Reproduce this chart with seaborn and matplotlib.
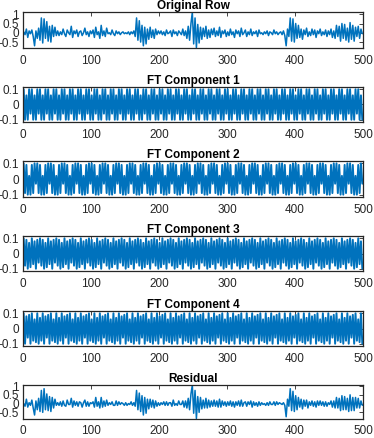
import numpy as np
import matplotlib
matplotlib.use("Agg")
import matplotlib.pyplot as plt
import seaborn as sns

# sample positions (every second sample of a 500-sample row)
x_pos = list(range(1, 500, 2))

# values in hundredths
original_row = [
    5, -10, 20, -25, 10, -5, 15, -20, -70, 10, -30, 25, -40, 80, -55, 75, -30, 60, -45, 35, -50, 40, -20, 30, -15,
    10, -15, 5, -10, 20, -5, -20, 15, 0, -10, 35, -25, 10, -5, 15, -20, 5, 10, -15, 0, 25, -10, 5, -20, 10,
    -5, 15, -25, 30, -10, 5, -30, 40, -15, 10, -20, 25, -5, 0, -10, 15, -5, -15, 10, -5, 5, -10, 0, 5, -5,
    0, -5, 5, -10, 5, -5, 10, -20, 80, -40, 65, -50, 40, -70, 30, -60, 20, -35, 30, -25, 15, -30, 20, -10, 10,
    -5, 10, -10, 5, -15, 15, -5, 0, 10, -20, 15, -5, 5, -15, 10, 0, -10, 20, -15, 10, -30, 35, -40, 50, 110,
    -60, 80, -80, 45, -55, 30, -35, 25, -20, 35, -30, 15, -25, 20, -10, 25, -20, 10, -15, 30, -25, 10, -5, 15, -20,
    5, -15, 20, -10, 5, -25, 15, -5, 10, -20, 25, -10, 0, 15, -20, 5, -10, 20, -15, 5, -5, 10, -20, 15, -5,
    0, -10, 5, -5, 10, -15, 5, 0, -10, 15, -5, 5, -10, 0, 5, -10, 10, -15, -70, 20, -20, 80, -45, 75, -50,
    50, -30, 40, -25, 20, -35, 15, -10, 25, -20, 5, -15, 20, -10, 15, -25, 10, -5, 20, -15, 5, -10, 15, -20, 10,
    -10, 20, -25, 10, -30, 40, -20, 35, -45, 50, -30, 45, -40, 25, -50, 55, -35, 40, -45, 30, -20, 35, -30, 20, -5,
]

residual = [
    0, -15, 25, -20, 5, -10, 20, -25, -65, 15, -35, 30, -45, 75, -50, 85, -35, 55, -40, 40, -45, 35, -25, 25, -10,
    5, -10, 10, -15, 15, -10, -15, 20, -5, -5, 30, -20, 15, -10, 10, -15, 10, 5, -20, 5, 20, -15, 10, -15, 5,
    0, 10, -20, 35, -15, 10, -25, 35, -20, 15, -15, 20, -10, 5, -5, 10, -10, -10, 15, -10, 10, -5, 5, 0, -10,
    5, -10, 0, -5, 10, -10, 5, -15, 75, -35, 60, -45, 45, -65, 35, -55, 25, -30, 25, -20, 20, -25, 15, -15, 5,
    -10, 5, -5, 10, -10, 10, -10, 5, 5, -15, 20, -10, 0, -10, 15, -5, -5, 15, -20, 15, -25, 30, -35, 55, 105,
    -55, 75, -85, 40, -50, 35, -30, 20, -25, 30, -25, 20, -20, 15, -15, 20, -15, 15, -20, 25, -20, 15, -10, 10, -15,
    10, -10, 15, -15, 10, -20, 10, -10, 15, -15, 20, -15, 5, 10, -15, 10, -5, 15, -20, 10, -10, 5, -15, 10, -10,
    5, -5, 0, -10, 5, -10, 10, -5, -5, 10, -10, 10, -5, 5, 0, -5, 5, -10, -75, 25, -15, 85, -40, 70, -45,
    45, -35, 35, -20, 25, -30, 20, -15, 20, -25, 10, -10, 15, -15, 10, -20, 15, -10, 15, -10, 10, -15, 10, -15, 5,
    -5, 15, -20, 15, -25, 35, -25, 30, -40, 45, -35, 40, -35, 30, -45, 50, -40, 35, -40, 35, -25, 30, -25, 15, -10,
]

ft_component_1 = [
    10, -10, 6, -10, 10, -6, 10, -10, 6, -10, 10, -6, 10, -10, 6, -10, 10, -6, 10, -10, 6, -10, 10, -6, 10,
    -10, 6, -10, 10, -6, 10, -10, 6, -10, 10, -6, 10, -10, 6, -10, 10, -6, 10, -10, 6, -10, 10, -6, 10, -10,
    6, -10, 10, -6, 10, -10, 6, -10, 10, -6, 10, -10, 6, -10, 10, -6, 10, -10, 6, -10, 10, -6, 10, -10, 6,
    -10, 10, -6, 10, -10, 6, -10, 10, -6, 10, -10, 6, -10, 10, -6, 10, -10, 6, -10, 10, -6, 10, -10, 6, -10,
    10, -6, 10, -10, 6, -10, 10, -6, 10, -10, 6, -10, 10, -6, 10, -10, 6, -10, 10, -6, 10, -10, 6, -10, 10,
    -6, 10, -10, 6, -10, 10, -6, 10, -10, 6, -10, 10, -6, 10, -10, 6, -10, 10, -6, 10, -10, 6, -10, 10, -6,
    10, -10, 6, -10, 10, -6, 10, -10, 6, -10, 10, -6, 10, -10, 6, -10, 10, -6, 10, -10, 6, -10, 10, -6, 10,
    -10, 6, -10, 10, -6, 10, -10, 6, -10, 10, -6, 10, -10, 6, -10, 10, -6, 10, -10, 6, -10, 10, -6, 10, -10,
    6, -10, 10, -6, 10, -10, 6, -10, 10, -6, 10, -10, 6, -10, 10, -6, 10, -10, 6, -10, 10, -6, 10, -10, 6,
    -10, 10, -6, 10, -10, 6, -10, 10, -6, 10, -10, 6, -10, 10, -6, 10, -10, 6, -10, 10, -6, 10, -10, 6, -10,
]

ft_component_2 = [
    10, -9, 9, -10, 2, -10, 9, -9, 10, -3, 10, -9, 9, -10, 2, -10, 9, -9, 10, -3, 10, -9, 9, -10, 2,
    -10, 9, -9, 10, -3, 10, -9, 9, -10, 2, -10, 9, -9, 10, -3, 10, -9, 9, -10, 2, -10, 9, -9, 10, -3,
    10, -9, 9, -10, 2, -10, 9, -9, 10, -3, 10, -9, 9, -10, 2, -10, 9, -9, 10, -3, 10, -9, 9, -10, 2,
    -10, 9, -9, 10, -3, 10, -9, 9, -10, 2, -10, 9, -9, 10, -3, 10, -9, 9, -10, 2, -10, 9, -9, 10, -3,
    10, -9, 9, -10, 2, -10, 9, -9, 10, -3, 10, -9, 9, -10, 2, -10, 9, -9, 10, -3, 10, -9, 9, -10, 2,
    -10, 9, -9, 10, -3, 10, -9, 9, -10, 2, -10, 9, -9, 10, -3, 10, -9, 9, -10, 2, -10, 9, -9, 10, -3,
    10, -9, 9, -10, 2, -10, 9, -9, 10, -3, 10, -9, 9, -10, 2, -10, 9, -9, 10, -3, 10, -9, 9, -10, 2,
    -10, 9, -9, 10, -3, 10, -9, 9, -10, 2, -10, 9, -9, 10, -3, 10, -9, 9, -10, 2, -10, 9, -9, 10, -3,
    10, -9, 9, -10, 2, -10, 9, -9, 10, -3, 10, -9, 9, -10, 2, -10, 9, -9, 10, -3, 10, -9, 9, -10, 2,
    -10, 9, -9, 10, -3, 10, -9, 9, -10, 2, -10, 9, -9, 10, -3, 10, -9, 9, -10, 2, -10, 9, -9, 10, -3,
]

ft_component_3 = [
    10, -8, 9, -10, 7, -9, 10, -7, 8, -10, 9, -6, 10, -8, 9, -10, 7, -9, 10, -7, 8, -10, 9, -6, 10,
    -8, 9, -10, 7, -9, 10, -7, 8, -10, 9, -6, 10, -8, 9, -10, 7, -9, 10, -7, 8, -10, 9, -6, 10, -8,
    9, -10, 7, -9, 10, -7, 8, -10, 9, -6, 10, -8, 9, -10, 7, -9, 10, -7, 8, -10, 9, -6, 10, -8, 9,
    -10, 7, -9, 10, -7, 8, -10, 9, -6, 10, -8, 9, -10, 7, -9, 10, -7, 8, -10, 9, -6, 10, -8, 9, -10,
    7, -9, 10, -7, 8, -10, 9, -6, 10, -8, 9, -10, 7, -9, 10, -7, 8, -10, 9, -6, 10, -8, 9, -10, 7,
    -9, 10, -7, 8, -10, 9, -6, 10, -8, 9, -10, 7, -9, 10, -7, 8, -10, 9, -6, 10, -8, 9, -10, 7, -9,
    10, -7, 8, -10, 9, -6, 10, -8, 9, -10, 7, -9, 10, -7, 8, -10, 9, -6, 10, -8, 9, -10, 7, -9, 10,
    -7, 8, -10, 9, -6, 10, -8, 9, -10, 7, -9, 10, -7, 8, -10, 9, -6, 10, -8, 9, -10, 7, -9, 10, -7,
    8, -10, 9, -6, 10, -8, 9, -10, 7, -9, 10, -7, 8, -10, 9, -6, 10, -8, 9, -10, 7, -9, 10, -7, 8,
    -10, 9, -6, 10, -8, 9, -10, 7, -9, 10, -7, 8, -10, 9, -6, 10, -8, 9, -10, 7, -9, 10, -7, 8, -10,
]

ft_component_4 = [
    10, -10, 8, -6, 9, -10, 10, -8, 6, -9, 10, -10, 7, -8, 10, -10, 8, -6, 9, -10, 10, -8, 6, -9, 10,
    -10, 7, -8, 10, -10, 8, -6, 9, -10, 10, -8, 6, -9, 10, -10, 7, -8, 10, -10, 8, -6, 9, -10, 10, -8,
    6, -9, 10, -10, 7, -8, 10, -10, 8, -6, 9, -10, 10, -8, 6, -9, 10, -10, 7, -8, 10, -10, 8, -6, 9,
    -10, 10, -8, 6, -9, 10, -10, 7, -8, 10, -10, 8, -6, 9, -10, 10, -8, 6, -9, 10, -10, 7, -8, 10, -10,
    8, -6, 9, -10, 10, -8, 6, -9, 10, -10, 7, -8, 10, -10, 8, -6, 9, -10, 10, -8, 6, -9, 10, -10, 7,
    -8, 10, -10, 8, -6, 9, -10, 10, -8, 6, -9, 10, -10, 7, -8, 10, -10, 8, -6, 9, -10, 10, -8, 6, -9,
    10, -10, 7, -8, 10, -10, 8, -6, 9, -10, 10, -8, 6, -9, 10, -10, 7, -8, 10, -10, 8, -6, 9, -10, 10,
    -8, 6, -9, 10, -10, 7, -8, 10, -10, 8, -6, 9, -10, 10, -8, 6, -9, 10, -10, 7, -8, 10, -10, 8, -6,
    9, -10, 10, -8, 6, -9, 10, -10, 7, -8, 10, -10, 8, -6, 9, -10, 10, -8, 6, -9, 10, -10, 7, -8, 10,
    -10, 8, -6, 9, -10, 10, -8, 6, -9, 10, -10, 7, -8, 10, -10, 8, -6, 9, -10, 10, -8, 6, -9, 10, -10,
]

titles = ["Original Row", "FT Component 1", "FT Component 2",
          "FT Component 3", "FT Component 4", "Residual"]
x_ticks = [0, 100, 200, 300, 400, 500]
big_yticks = [-0.5, 0, 0.5, 1]
big_yticklabels = ["-0.5", "0", "0.5", "1"]
small_yticks = [-0.1, 0, 0.1]
small_yticklabels = ["-0.1", "0", "0.1"]

series = [original_row, ft_component_1, ft_component_2,
          ft_component_3, ft_component_4, residual]
ylims = [(-0.82, 1.12), (-0.115, 0.115), (-0.115, 0.115),
         (-0.115, 0.115), (-0.115, 0.115), (-0.85, 1.06)]

sns.set_style("white")
plt.rcParams["font.family"] = ["Liberation Sans", "DejaVu Sans"]

W, H = 374, 438
fig = plt.figure(figsize=(W / 100, H / 100), dpi=100)

tops = [12, 87, 161, 236, 311, 385]
heights = [36, 35, 36, 35, 35, 33.5]
left_px, right_px = 23, 363

for i, (vals, title, ylim) in enumerate(zip(series, titles, ylims)):
    top = tops[i]
    ax_h = heights[i]
    ax = fig.add_axes([left_px / W, 1 - (top + ax_h) / H,
                       (right_px - left_px) / W, ax_h / H])
    y = np.array(vals) / 100.0
    lw = 1.1 if i in (0, 5) else 1.4
    sns.lineplot(x=x_pos, y=y, ax=ax, color="#0072BD", linewidth=lw)
    ax.set_xlim(0, 500)
    ax.set_ylim(*ylim)
    ax.set_xticks(x_ticks)
    ax.set_xticklabels([str(t) for t in x_ticks])
    if i in (0, 5):
        ax.set_yticks(big_yticks)
        ax.set_yticklabels(big_yticklabels)
    else:
        ax.set_yticks(small_yticks)
        ax.set_yticklabels(small_yticklabels)
    ax.tick_params(direction="in", length=3, width=0.6, top=True, right=True,
                   labelsize=8.5, colors="#262626", pad=3)
    ax.tick_params(axis="x", pad=5)
    for s in ax.spines.values():
        s.set_visible(True)
        s.set_color("#262626")
        s.set_linewidth(0.9)
    ax.set_xlabel("")
    ax.set_ylabel("")
    ax.set_title(title, fontsize=8.5, fontweight="bold", pad=2, color="black")

fig.savefig("out.png", dpi=100)
